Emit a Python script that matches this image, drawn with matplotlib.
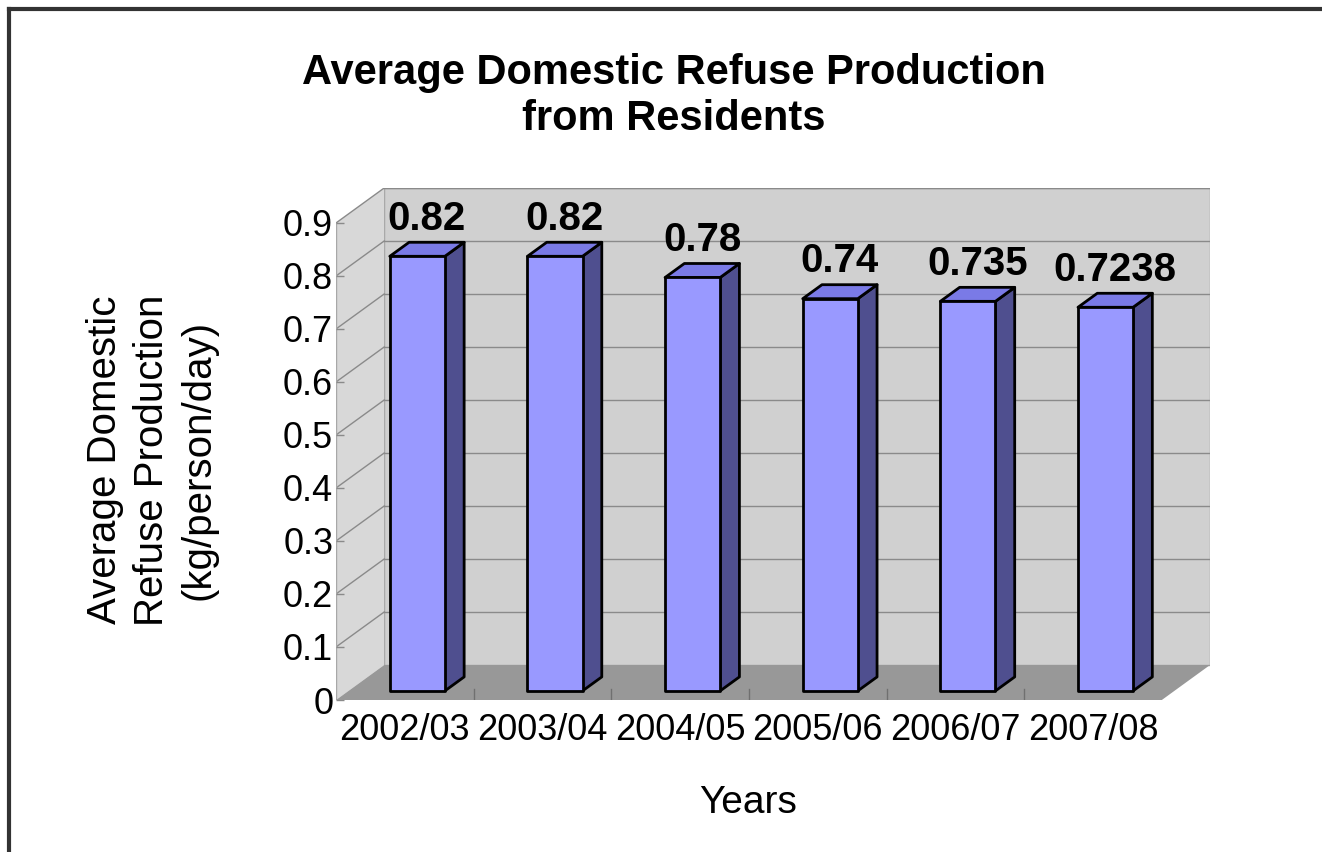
import numpy as np
import matplotlib
matplotlib.use('Agg')
import matplotlib.pyplot as plt
from matplotlib.patches import Polygon
from matplotlib.lines import Line2D

plt.rcParams['font.family'] = ['Liberation Sans', 'DejaVu Sans']

years = ['2002/03', '2003/04', '2004/05', '2005/06', '2006/07', '2007/08']
refuse = [0.82, 0.82, 0.78, 0.74, 0.735, 0.7238]
value_labels = ['0.82', '0.82', '0.78', '0.74', '0.735', '0.7238']
y_ticks = [0, 0.1, 0.2, 0.3, 0.4, 0.5, 0.6, 0.7, 0.8, 0.9]
y_tick_labels = ['0', '0.1', '0.2', '0.3', '0.4', '0.5', '0.6', '0.7', '0.8', '0.9']

# fake 3d: depth offset in data units (x in categories, y in values)
DX, DY = 0.35, 0.066
YMAX = 0.9
D0, D1 = 0.26, 0.66     # bar depth span (fraction of floor depth)
BW = 0.4                # bar width

W, H = 1322, 852
fig = plt.figure(figsize=(W / 100, H / 100), dpi=100)

# axes box: front-left floor corner to back-right top corner
x0, y0 = 336, 700
x1, y1 = 1210, 188
ax = fig.add_axes([x0 / W, 1 - y0 / H, (x1 - x0) / W, (y0 - y1) / H])
ax.set_xlim(0, len(years) + DX)
ax.set_ylim(0, YMAX + DY)
for s in ax.spines.values():
    s.set_visible(False)
ax.patch.set_alpha(0)

n = len(years)
wall = '#d0d0d0'
side_wall = '#d8d8d8'
floor = '#989898'
grid = '#8a8a8a'

# back wall, side wall, floor
ax.add_patch(Polygon([(DX, DY), (n + DX, DY), (n + DX, YMAX + DY), (DX, YMAX + DY)],
                     closed=True, facecolor=wall, edgecolor='#a0a0a0', lw=1, zorder=1))
ax.add_patch(Polygon([(0, 0), (DX, DY), (DX, YMAX + DY), (0, YMAX)],
                     closed=True, facecolor=side_wall, edgecolor='none', zorder=1))
ax.add_patch(Polygon([(0, 0), (n, 0), (n + DX, DY), (DX, DY)],
                     closed=True, facecolor=floor, edgecolor='none', zorder=2))

# gridlines on the walls
for v in y_ticks[1:]:
    ax.plot([DX, n + DX], [v + DY, v + DY], color=grid, lw=1, zorder=1.5)
    ax.plot([0, DX], [v, v + DY], color=grid, lw=1, zorder=1.5)
ax.plot([0, 0], [0, YMAX], color='#a8a8a8', lw=1, zorder=1.5)

# category ticks on the floor edge
for i in range(1, n):
    ax.plot([i, i], [-0.004, 0.02], color='#707070', lw=1, zorder=2.5)

front = '#9999ff'
top = '#7a7ae6'
side = '#4f4f8f'
for i, v in enumerate(refuse):
    cx = i + 0.5
    fx, fy = D0 * DX, D0 * DY
    bx, by = D1 * DX, D1 * DY
    l, r = cx - BW / 2, cx + BW / 2
    # right side face
    ax.add_patch(Polygon([(r + fx, fy), (r + bx, by), (r + bx, v + by), (r + fx, v + fy)],
                         closed=True, facecolor=side, edgecolor='black', lw=2,
                         joinstyle='round', zorder=3))
    # top face
    ax.add_patch(Polygon([(l + fx, v + fy), (r + fx, v + fy), (r + bx, v + by), (l + bx, v + by)],
                         closed=True, facecolor=top, edgecolor='black', lw=2,
                         joinstyle='round', zorder=3))
    # front face
    ax.add_patch(Polygon([(l + fx, fy), (r + fx, fy), (r + fx, v + fy), (l + fx, v + fy)],
                         closed=True, facecolor=front, edgecolor='black', lw=2,
                         joinstyle='round', zorder=4))
    mx = cx + (D0 + D1) / 2 * DX
    ax.text(mx, v + by + 0.008, value_labels[i], ha='center', va='bottom',
            fontsize=29, fontweight='bold', zorder=5)

ax.set_yticks(y_ticks)
ax.set_yticklabels(y_tick_labels, fontsize=26)
ax.set_xticks([i + 0.5 for i in range(n)])
ax.set_xticklabels(years, fontsize=26)
ax.tick_params(axis='y', length=6, width=1, color='#8a8a8a', pad=2, direction='in')
ax.tick_params(axis='x', length=0, pad=9)

fig.text(674 / W, 1 - 96 / H, 'Average Domestic Refuse Production\nfrom Residents',
         ha='center', va='center', fontsize=30, fontweight='bold', linespacing=1.22)
fig.text(152 / W, 1 - 460 / H, 'Average Domestic\nRefuse Production\n(kg/person/day)',
         ha='center', va='center', rotation=90, fontsize=29, linespacing=1.3)
fig.text(748 / W, 1 - 803 / H, 'Years', ha='center', va='center', fontsize=28)

# outer frame (left and top edges)
fig.add_artist(Line2D([9 / W, 9 / W], [0, 1 - 9 / H], color='#333333', lw=3))
fig.add_artist(Line2D([9 / W, 1], [1 - 9 / H, 1 - 9 / H], color='#333333', lw=3))

fig.savefig('out.png', dpi=100)
